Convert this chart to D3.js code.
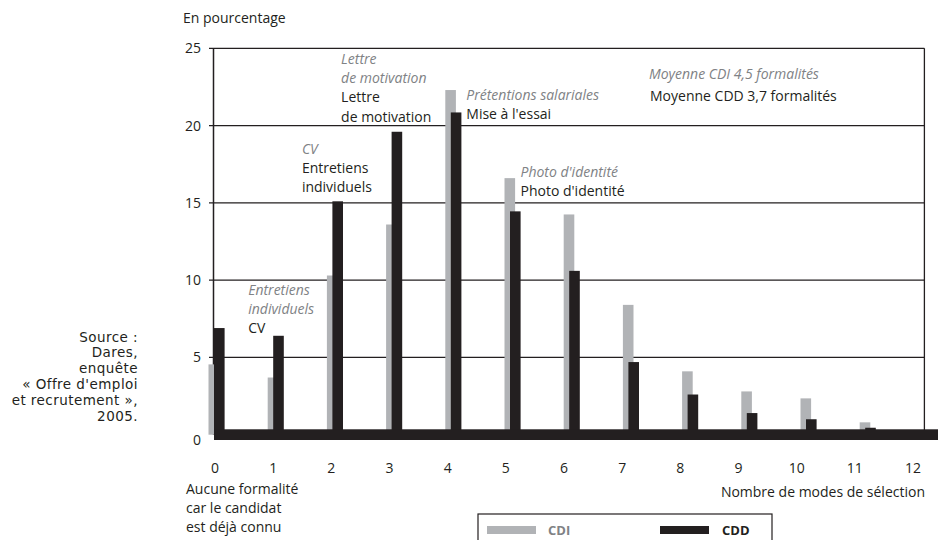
<!DOCTYPE html>
<html>
<head>
<meta charset="utf-8">
<script src="https://cdn.jsdelivr.net/npm/d3@7"></script>
<style>
  html, body { margin: 0; padding: 0; background: #fff; }
  svg { display: block; }
  text { font-family: "Open Sans", sans-serif; }
  text.src { font-family: "DejaVu Sans", sans-serif; letter-spacing: 0.45px; }
</style>
</head>
<body>
<svg id="chart" width="938" height="540"></svg>
<script>
// ---- data ----
const categories = [0, 1, 2, 3, 4, 5, 6, 7, 8, 9, 10, 11, 12];
const cdi = [4.55, 3.7, 10.3, 13.6, 22.3, 16.6, 14.25, 8.4, 4.1, 2.8, 2.35, 0.8, 0];
const cdd = [6.9, 6.4, 15.1, 19.6, 20.85, 14.45, 10.6, 4.7, 2.6, 1.4, 1.0, 0.45, 0];
const yTicks = [0, 5, 10, 15, 20, 25];
const xTickLabels = ["0", "1", "2", "3", "4", "5", "6", "7", "8", "9", "10", "11", "12"];
const seriesNames = ["CDI", "CDD"];
const annotations = [
  { cat: 1, cdi: ["Entretiens", "individuels"], cdd: ["CV"] },
  { cat: 2, cdi: ["CV"], cdd: ["Entretiens", "individuels"] },
  { cat: 3, cdi: ["Lettre", "de motivation"], cdd: ["Lettre", "de motivation"] },
  { cat: 4, cdi: ["Prétentions salariales"], cdd: ["Mise à l'essai"] },
  { cat: 5, cdi: ["Photo d'identité"], cdd: ["Photo d'identité"] }
];
const meanLabels = { cdi: "Moyenne CDI 4,5 formalités", cdd: "Moyenne CDD 3,7 formalités" };
const yTitle = "En pourcentage";
const xTitle = "Nombre de modes de sélection";
const zeroNote = ["Aucune formalité", "car le candidat", "est déjà connu"];
const sourceLines = ["Source :", "Dares,", "enquête", "« Offre d'emploi", "et recrutement »,", "2005."];

// ---- style ----
const GREY = "#b1b3b6";
const BLACK = "#231f20";
const GREYTXT = "#808285";

const svg = d3.select("#chart");

const x = d3.scaleLinear().domain([0, 12]).range([214, 924.4]);
const y = d3.scaleLinear().domain([0, 25]).range([434.7, 48.3]);
const xLab = d3.scalePoint().domain(xTickLabels).range([215, 913]);

const barW = 10.6;
const greyOff = -5.5;

// gridlines
svg.append("g").selectAll("line").data(yTicks.filter(d => d > 0)).join("line")
  .attr("x1", 209).attr("x2", x(12))
  .attr("y1", d => y(d)).attr("y2", d => y(d))
  .attr("stroke", BLACK).attr("stroke-width", 1.2);

// y tick labels
svg.append("g").selectAll("text").data(yTicks).join("text")
  .attr("x", 201).attr("y", d => d === 0 ? y(d) + 10 : y(d) + 5)
  .attr("text-anchor", "end").attr("font-size", 14).attr("fill", BLACK)
  .text(d => d);

// frame lines
svg.append("line").attr("x1", 213.5).attr("x2", 213.5).attr("y1", y(25)).attr("y2", y(0))
  .attr("stroke", BLACK).attr("stroke-width", 1.5);
svg.append("line").attr("x1", x(12)).attr("x2", x(12)).attr("y1", y(25)).attr("y2", y(0))
  .attr("stroke", BLACK).attr("stroke-width", 1.3);

// CDI bars
svg.append("g").selectAll("rect").data(categories).join("rect")
  .attr("x", d => x(d) + greyOff).attr("width", barW)
  .attr("y", (d, i) => y(cdi[i])).attr("height", (d, i) => y(0) - y(cdi[i]))
  .attr("fill", GREY);

// CDD bars
svg.append("g").selectAll("rect").data(categories).join("rect")
  .attr("x", d => x(d)).attr("width", barW)
  .attr("y", (d, i) => y(cdd[i])).attr("height", (d, i) => y(0) + 5.3 - y(cdd[i]))
  .attr("fill", BLACK);

// thick baseline
svg.append("rect").attr("x", x(0)).attr("width", 938 - x(0))
  .attr("y", y(0) - 5.4).attr("height", 10.7).attr("fill", BLACK);

// x tick labels
svg.append("g").selectAll("text").data(xTickLabels).join("text")
  .attr("x", d => xLab(d)).attr("y", 473)
  .attr("text-anchor", "middle").attr("font-size", 14).attr("fill", BLACK)
  .text(d => d);

// titles
svg.append("text").attr("x", 183).attr("y", 23).attr("font-size", 14).attr("fill", BLACK).text(yTitle);
svg.append("text").attr("x", 925).attr("y", 497).attr("text-anchor", "end")
  .attr("font-size", 14).attr("fill", BLACK).text(xTitle);
svg.append("g").selectAll("text").data(zeroNote).join("text")
  .attr("x", 186).attr("y", (d, i) => 494 + i * 19)
  .attr("font-size", 14).attr("fill", BLACK).text(d => d);

// annotations (position per annotated category)
const annLayout = {
  1: { dx: -25, y0: 294.5 },
  2: { dx: -30.5, y0: 154 },
  3: { dx: -50.5, y0: 64 },
  4: { dx: 15.5, y0: 100 },
  5: { dx: 10.5, y0: 176.5 }
};
const lineH = 19.2;
annotations.forEach(a => {
  const L = annLayout[a.cat];
  const g = svg.append("g");
  const lines = a.cdi.map(t => ({ t, italic: true })).concat(a.cdd.map(t => ({ t, italic: false })));
  g.selectAll("text").data(lines).join("text")
    .attr("x", x(a.cat) + L.dx).attr("y", (d, i) => L.y0 + i * lineH)
    .attr("font-size", 14)
    .attr("font-style", d => d.italic ? "italic" : "normal")
    .attr("fill", d => d.italic ? GREYTXT : BLACK)
    .text(d => d.t);
});

svg.append("text").attr("x", 649).attr("y", 78.5).attr("font-size", 14)
  .attr("font-style", "italic").attr("fill", GREYTXT).text(meanLabels.cdi);
svg.append("text").attr("x", 650).attr("y", 101).attr("font-size", 14)
  .attr("fill", BLACK).text(meanLabels.cdd);

// source
svg.append("g").selectAll("text").data(sourceLines).join("text")
  .attr("class", "src")
  .attr("x", 138).attr("y", (d, i) => 341.5 + i * 15.9)
  .attr("text-anchor", "end").attr("font-size", 13.5)
  .attr("fill", BLACK)
  .text(d => d);

// legend
const lg = svg.append("g");
lg.append("rect").attr("x", 478).attr("y", 514).attr("width", 294).attr("height", 40)
  .attr("fill", "none").attr("stroke", BLACK).attr("stroke-width", 1.2);
const legendItems = [
  { name: seriesNames[0], color: GREY, txt: GREYTXT, sx: 487, tx: 548 },
  { name: seriesNames[1], color: BLACK, txt: BLACK, sx: 660, tx: 722 }
];
legendItems.forEach(it => {
  lg.append("rect").attr("x", it.sx).attr("y", 526).attr("width", 49).attr("height", 8).attr("fill", it.color);
  lg.append("text").attr("x", it.tx).attr("y", 534.5).attr("font-size", 13)
    .attr("font-weight", "bold").attr("fill", it.txt).text(it.name);
});
</script>
</body>
</html>
